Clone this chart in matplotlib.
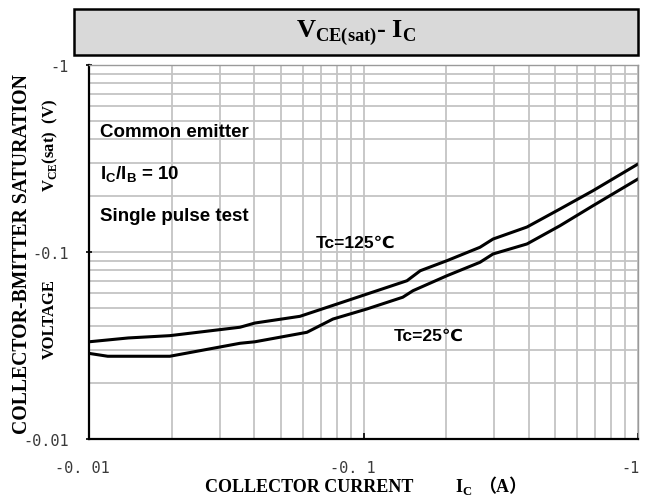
import matplotlib
matplotlib.use("Agg")
import matplotlib.pyplot as plt
import matplotlib.patches as patches
import matplotlib.transforms as mtransforms
from matplotlib.ticker import FixedLocator, NullFormatter

plt.rcParams['mathtext.fontset'] = 'custom'
plt.rcParams['mathtext.rm'] = 'Liberation Serif:bold'
plt.rcParams['mathtext.bf'] = 'Liberation Sans:bold'

# ---- data (|IC| in A, |VCE(sat)| in V) ----
ic_125 = [0.010, 0.0139, 0.0197, 0.0355, 0.0402, 0.0587, 0.0801, 0.103, 0.144, 0.161,
          0.2015, 0.2657, 0.2964, 0.394, 0.5197, 0.6855, 1.0]
vce_125 = [0.0331, 0.0347, 0.0357, 0.0396, 0.0417, 0.0453, 0.0527, 0.0596, 0.0702, 0.0794,
           0.0899, 0.106, 0.1173, 0.136, 0.1698, 0.2127, 0.2955]
ic_25 = [0.010, 0.0117, 0.0197, 0.0355, 0.0402, 0.0622, 0.0774, 0.103, 0.139, 0.1515,
         0.2015, 0.2657, 0.2964, 0.394, 0.5197, 0.6855, 1.0]
vce_25 = [0.0287, 0.0277, 0.0277, 0.0325, 0.0331, 0.0372, 0.0438, 0.0496, 0.0573, 0.0621,
          0.0747, 0.0881, 0.0976, 0.1104, 0.1382, 0.1768, 0.2457]

x_ticks = [0.01, 0.1, 1]
x_tick_labels = ["-0. 01", "-0. 1", "-1"]
y_ticks = [0.01, 0.1, 1]
y_tick_labels = ["-0.01", "-0.1", "-1"]

W, H = 651, 502
fig = plt.figure(figsize=(W / 100, H / 100), dpi=100)
ax = fig.add_axes([89 / W, (H - 440) / H, 549 / W, 374 / H])

ax.set_xscale('log')
ax.set_yscale('log')
ax.set_xlim(0.01, 1)
ax.set_ylim(0.01, 1)

ax.grid(True, which='both', color='#c4c4c4', lw=1.3)
ax.set_axisbelow(True)

ax.plot(ic_125, vce_125, color='black', lw=2.2, solid_joinstyle='round')
ax.plot(ic_25, vce_25, color='black', lw=2.2, solid_joinstyle='round')

ax.xaxis.set_major_locator(FixedLocator(x_ticks))
ax.yaxis.set_major_locator(FixedLocator(y_ticks))
ax.xaxis.set_minor_formatter(NullFormatter())
ax.yaxis.set_minor_formatter(NullFormatter())
ax.set_xticklabels(x_tick_labels)
ax.set_yticklabels(y_tick_labels)
ax.tick_params(which='minor', length=0)
ax.tick_params(axis='x', which='major', direction='in', length=4, width=1.2, pad=15,
               labelsize=11, labelcolor='#3a3a3a')
ax.tick_params(axis='y', which='major', direction='inout', length=5, width=1.2, pad=12,
               labelsize=11, labelcolor='#3a3a3a')
for lab in ax.get_xticklabels() + ax.get_yticklabels():
    lab.set_fontfamily('DejaVu Sans Mono')

# shift x tick labels like reference
xl = ax.get_xticklabels()
offsets = [-7, -11, 2]
for lab, off in zip(xl, offsets):
    lab.set_transform(lab.get_transform() + mtransforms.ScaledTranslation(off / 100, 0, fig.dpi_scale_trans))
xl[2].set_horizontalalignment('right')

for s in ['left', 'bottom']:
    ax.spines[s].set_color('black')
    ax.spines[s].set_linewidth(1.6)
for s in ['top', 'right']:
    ax.spines[s].set_color('#9a9a9a')
    ax.spines[s].set_linewidth(1.0)

# title box
rect = patches.Rectangle((73.5 / W, (H - 56) / H), (638 - 73.5) / W, 46 / H,
                         transform=fig.transFigure, facecolor='#d9d9d9',
                         edgecolor='black', lw=1.8, zorder=0)
fig.patches.append(rect)
fig.text(356 / W, 1 - 33 / H, r'V$_{\mathrm{CE(sat)}}$- I$_{\mathrm{C}}$',
         family='Liberation Serif', weight='bold', fontsize=19, ha='center', va='center')

# axis labels
fig.text(22 / W, 1 - 254 / H, 'COLLECTOR-BMITTER SATURATION', rotation=90,
         family='Liberation Serif', weight='bold', fontsize=14.2, ha='center', va='center')
fig.text(50 / W, 1 - 319 / H, 'VOLTAGE', rotation=90,
         family='Liberation Serif', weight='bold', fontsize=12, ha='center', va='center')
fig.text(50 / W, 1 - 146 / H, r'V$_{\mathrm{CE}}$(sat)  (V)', rotation=90,
         family='Liberation Serif', weight='bold', fontsize=12,
         ha='center', va='center')
base_y = 1 - 492 / H
fig.text(205 / W, base_y, 'COLLECTOR CURRENT',
         family='Liberation Serif', weight='bold', fontsize=13,
         ha='left', va='baseline')
fig.text(455 / W, base_y, r'I$_{\mathrm{C}}$',
         family='Liberation Serif', weight='bold', fontsize=13,
         ha='left', va='baseline')
fig.text(527 / W, base_y, '（A）',
         family=['Liberation Serif', 'Noto Sans CJK SC'], weight='bold', fontsize=13,
         ha='right', va='baseline')

# annotations
fam = ['Liberation Sans', 'DejaVu Sans', 'Noto Sans CJK SC']
ax.text(0.02, 0.821, 'Common emitter', transform=ax.transAxes, family=fam,
        weight='bold', fontsize=13.5, ha='left', va='center')
ax.text(0.02, 0.709, r'I$_{\mathbf{C}}$/I$_{\mathbf{B}}$ = 10', transform=ax.transAxes, family=fam,
        weight='bold', fontsize=13.5, ha='left', va='center')
ax.text(0.02, 0.597, 'Single pulse test', transform=ax.transAxes, family=fam,
        weight='bold', fontsize=13.5, ha='left', va='center')
ax.text(0.4135, 0.527, 'Tc=125℃', transform=ax.transAxes, family=fam,
        weight='bold', fontsize=12.5, ha='left', va='center')
ax.text(0.5556, 0.278, 'Tc=25℃', transform=ax.transAxes, family=fam,
        weight='bold', fontsize=12.5, ha='left', va='center')

fig.savefig('out.png', dpi=100)
